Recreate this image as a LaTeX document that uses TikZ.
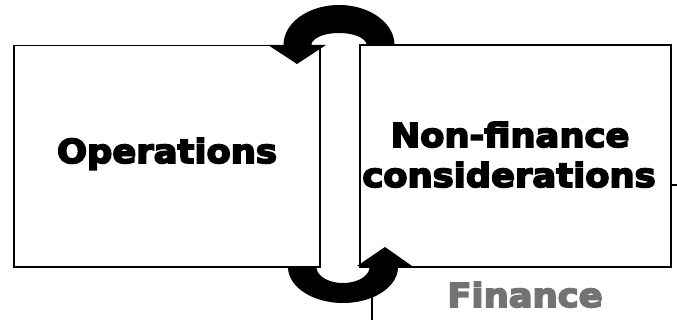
\documentclass[tikz,border=0pt]{standalone}
\usepackage{fontspec}
\newfontfamily\blackfont{DejaVu Sans Bold}[FakeBold=5,FakeStretch=1.07]
\begin{document}
\begin{tikzpicture}[x=1pt,y=-1pt,
  card/.style={draw=black, line width=1.6pt, fill=white, inner sep=0pt},
  edge/.style={draw=black, line width=1.6pt},
  bigtxt/.style={font=\blackfont\fontsize{33}{40}\selectfont, inner sep=0pt, anchor=base},
  curvarrow/.style={fill=black, draw=none}]
\useasboundingbox (0,0) rectangle (677,320);
% third card (Finance), behind
\begin{scope}
  \clip (0,0) rectangle (677,320);
  \draw[line width=1.2pt] (372,340) -- (372,185) -- (700,185);
\end{scope}
% left card
\node[card, minimum width=306pt, minimum height=221pt] (ops) at (167,156) {};
% top curved arrow (head over left card, tail behind right card)
\fill[curvarrow] plot[domain=0:180, samples=50] ({339+55.5*cos(\x)},{45-40*sin(\x)})
  -- (268,45) -- (297,64) -- (326,45)
  -- plot[domain=180:0, samples=50] ({339+27.5*cos(\x)},{45-12*sin(\x)}) -- cycle;
% right card
\node[card, minimum width=311pt, minimum height=222pt] (nonfin) at (515.5,156) {};
% bottom curved arrow (head over right card, tail behind left card)
\fill[curvarrow] plot[domain=180:0, samples=50] ({343+55*cos(\x)},{267+36*sin(\x)})
  -- (412,266) -- (385,247) -- (357,266)
  -- plot[domain=0:180, samples=50] ({343+26.5*cos(\x)},{267+16*sin(\x)}) -- cycle;
\draw[edge] (ops.south west) -- (ops.south east);
% texts
\node[bigtxt] (opstxt) at (167,163) {Operations};
\node[bigtxt] (nf1) at (510,147) {Non-finance};
\node[bigtxt] (nf2) at (509,187) {considerations};
\node[bigtxt, text=black!55] (fintxt) at (525,307) {Finance};
\end{tikzpicture}
\end{document}
